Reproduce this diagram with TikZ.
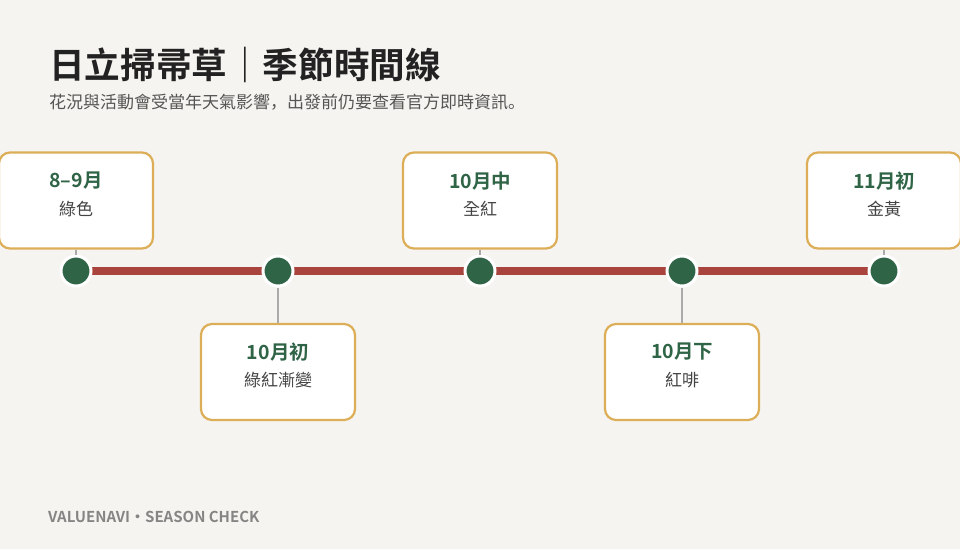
\documentclass[tikz,border=0pt]{standalone}
\usepackage{fontspec}
\newfontfamily\cjk{Noto Sans CJK TC}
\newfontfamily\cjksc{Noto Sans CJK SC}
\newfontfamily\cjkbold{Noto Sans CJK TC Bold}
\definecolor{bg}{HTML}{F6F4F0}
\definecolor{gold}{HTML}{DDAE58}
\definecolor{dgreen}{HTML}{2F6446}
\definecolor{rline}{HTML}{A9433D}
\definecolor{ttl}{HTML}{222222}
\definecolor{sub}{HTML}{555555}
\definecolor{foot}{HTML}{858585}
\definecolor{conn}{HTML}{AAAAAA}
\tikzset{
  card/.style={draw=gold, line width=2.2pt, fill=white, rounded corners=11pt, minimum width=154pt, minimum height=96pt, inner sep=0pt},
  dot/.style={circle, fill=dgreen, draw=white, line width=3pt, minimum size=30pt, inner sep=0pt},
  datelbl/.style={font=\cjkbold\fontsize{19.5}{22}\selectfont, text=dgreen, inner sep=0pt},
  desclbl/.style={font=\cjk\fontsize{17}{19}\selectfont, text=ttl!85, inner sep=0pt},
  connector/.style={draw=conn, line width=1.2pt},
}
\begin{document}
\begin{tikzpicture}[x=1pt,y=-1pt]
\useasboundingbox (0,0) rectangle (960,549);
\fill[bg] (0,0) rectangle (960,549);
% title
\node[anchor=base west, inner sep=0pt, text=ttl, font=\cjkbold\fontsize{35.6}{40}\selectfont] (title) at (49,78) {日立掃帚草｜季節時間線};
\node[anchor=base west, inner sep=0pt, text=sub, font=\cjksc\fontsize{17}{20}\selectfont] (subtitle) at (49,108) {花況與活動會受當年天氣影響，出發前仍要查看官方即時資訊。};
% timeline
\coordinate (L) at (76,271);
\coordinate (R) at (884,271);
\draw[rline, line width=8pt] (L) -- (R);
\node[dot] (d1) at (76,271) {};
\node[dot] (d2) at (278,271) {};
\node[dot] (d3) at (480,271) {};
\node[dot] (d4) at (682,271) {};
\node[dot] (d5) at (884,271) {};
% cards
\node[card] (c1) at (76,200.5) {};
\node[card] (c2) at (278,372) {};
\node[card] (c3) at (480,200.5) {};
\node[card] (c4) at (682,372) {};
\node[card] (c5) at (884,200.5) {};
% connectors
\draw[connector] (c1.south) -- (d1.north);
\draw[connector] (c3.south) -- (d3.north);
\draw[connector] (c5.south) -- (d5.north);
\draw[connector] (d2.south) -- (c2.north);
\draw[connector] (d4.south) -- (c4.north);
% labels
\node[datelbl] (t1) at (76,181) {8–9月};
\node[desclbl] (s1) at (76,209) {綠色};
\node[datelbl] (t2) at (278,352) {10月初};
\node[desclbl] (s2) at (278,380) {綠紅漸變};
\node[datelbl] (t3) at (480,181) {10月中};
\node[desclbl] (s3) at (480,209) {全紅};
\node[datelbl] (t4) at (682,352) {10月下};
\node[desclbl] (s4) at (682,380) {紅啡};
\node[datelbl] (t5) at (884,181) {11月初};
\node[desclbl] (s5) at (884,209) {金黃};
% footer
\node[anchor=base west, inner sep=0pt, text=foot, font=\cjkbold\fontsize{15}{18}\selectfont] (footer) at (48,522) {VALUENAVI・SEASON CHECK};
\end{tikzpicture}
\end{document}
